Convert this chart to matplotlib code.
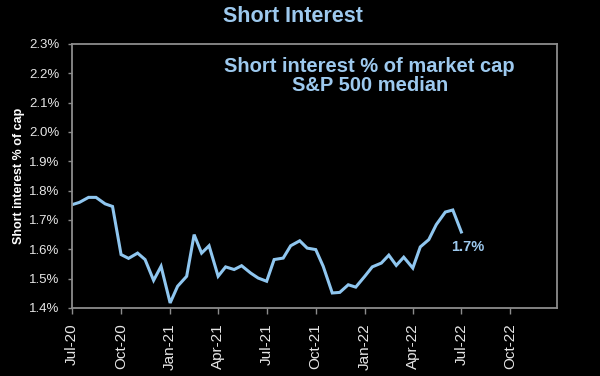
import matplotlib
matplotlib.use("Agg")
import matplotlib.pyplot as plt
import pandas as pd

dates = pd.date_range("2020-07-01", periods=49, freq="SMS")
values = [1.752, 1.760, 1.777, 1.777, 1.755, 1.746, 1.582, 1.569, 1.587, 1.565,
          1.494, 1.542, 1.417, 1.474, 1.508, 1.650, 1.587, 1.612, 1.508, 1.540,
          1.531, 1.544, 1.519, 1.502, 1.491, 1.565, 1.570, 1.612, 1.629,
          1.604, 1.599, 1.542, 1.451, 1.453, 1.479, 1.471, 1.508, 1.540, 1.553,
          1.580, 1.545, 1.573, 1.536, 1.608, 1.633, 1.684, 1.727, 1.734, 1.659]
yticks = [1.4, 1.5, 1.6, 1.7, 1.8, 1.9, 2.0, 2.1, 2.2, 2.3]
xtick_dates = pd.date_range("2020-07-01", "2022-10-01", freq="QS-JUL")

LINE = "#8FC6EF"
TITLE = "#9DC9EE"
GRAY = "#8C8C8C"
FONT = ["Liberation Sans", "DejaVu Sans"]

fig = plt.figure(figsize=(6.0, 3.76), dpi=100, facecolor="black")
ax = fig.add_axes([0.12, 0.181, 0.808, 0.702], facecolor="black")

ax.plot(dates, values, color=LINE, lw=2.2, solid_joinstyle="miter")

ax.set_ylim(1.4, 2.3)
ax.set_yticks(yticks)
ax.set_yticklabels([f"{v:.1f}%" for v in yticks], fontsize=9.5, family=FONT)
ax.set_xlim(pd.Timestamp("2020-07-01"), pd.Timestamp("2022-12-27"))
ax.set_xticks(xtick_dates)
ax.set_xticklabels([d.strftime("%b-%y") for d in xtick_dates], rotation=90,
                   fontsize=11, family=FONT)

for s in ax.spines.values():
    s.set_color(GRAY)
    s.set_linewidth(1.3)
ax.tick_params(axis="y", colors=GRAY, length=3, width=1.0, labelcolor="#E6E6E6", pad=6)
ax.tick_params(axis="x", colors=GRAY, length=4, width=1.0, labelcolor="#E6E6E6", pad=7)

ax.set_ylabel("Short interest % of cap", color="white", fontsize=9, fontweight="bold",
              family=FONT, labelpad=3)

fig.text(0.488, 0.957, "Short Interest", ha="center", va="center", color=TITLE,
         fontsize=15.5, fontweight="bold", family=FONT)

ax.text(0.614, 0.879, "Short interest % of market cap\nS&P 500 median", transform=ax.transAxes,
        ha="center", va="center", color=TITLE, fontsize=14.5, fontweight="bold",
        family=FONT, linespacing=1.05)

ax.annotate("1.7%", xy=(dates[-1], values[-1]), xytext=(-7, -11), textcoords="offset points",
            ha="left", va="center", color=TITLE, fontsize=10.5, fontweight="bold",
            family=FONT)

fig.savefig("out.png", dpi=100, facecolor="black")
